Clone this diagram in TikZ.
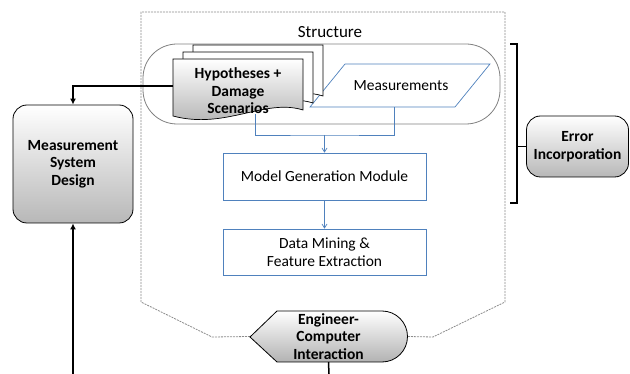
\documentclass[tikz,border=0pt]{standalone}
\usepackage{fontspec}
\setmainfont{Carlito}
\usetikzlibrary{arrows.meta,positioning,calc}
\definecolor{boxBlue}{HTML}{4F81BD}
\newcommand\boxFont{\fontsize{15.5}{17.5}\selectfont}
\tikzstyle{grayBox}   =[draw,rounded corners=14pt,top color=white,bottom color=black!28,line width=0.8pt,align=center,font=\boxFont\bfseries]
\tikzstyle{blueBox}   =[draw=boxBlue,line width=0.7pt,fill=white,align=center,minimum width=203pt]
\tikzstyle{boldText}  =[align=center,font=\boxFont\bfseries]
\tikzstyle{docPage}   =[draw,line width=0.7pt,fill=white]
\tikzstyle{dashLine}  =[black!45,dash pattern=on 2pt off 1pt,line width=0.8pt]
\tikzstyle{blueLine}  =[boxBlue,line width=0.7pt]
\tikzstyle{blueArrow} =[blueLine,-{Straight Barb[length=4pt,width=5pt]}]
\tikzstyle{thickArrow}=[line width=1.7pt,-{Latex[length=6pt,width=6pt]}]

\begin{document}
\begin{tikzpicture}[x=1pt,y=-1pt,font=\boxFont]
  \useasboundingbox (0,0) rectangle (630,374);

  % engineer-computer interaction tab and the structure outline
  \node[boldText,minimum width=157pt,minimum height=51pt,inner sep=0pt] (eci) at (328.5,336.5) {};
  \draw[dashLine] (eci.west) -- (212,337) -- (141,302) -- (141,12) -- (505,12)
    -- (505,302) -- (433,337) -- (eci.east);
  \draw[line width=0.8pt,top color=white,bottom color=black!30]
    (250,337) -- (277,311) -- (382,311) arc(-90:90:25.5) -- (277,362) -- cycle;
  \node[boldText] at (eci) {Engineer-\\Computer\\Interaction};

  \node[font=\fontsize{17}{20}\selectfont] (struct) at (330,32) {Structure};
  \draw[black!50,line width=0.8pt,rounded corners=34pt] (143,44) rectangle (500,124);

  % measurements
  \draw[boxBlue,line width=0.7pt,fill=white] (345,64) -- (490,64) -- (455,107) -- (310,107) -- cycle;
  \node (meas) at (401,86) {Measurements};

  % stack of hypotheses
  \foreach \s in {20,10}
    \draw[docPage,shift={(\s,-0.7*\s)}] (173,59) -- (303,59) -- (303,110)
      .. controls (265,98) and (225,130) .. (173,116) -- cycle;
  \draw[line width=0.7pt,top color=white,bottom color=black!32] (173,59) -- (303,59) -- (303,110)
    .. controls (265,98) and (225,130) .. (173,116) -- cycle;
  \node[boldText] (hyp) at (238,91) {Hypotheses +\\Damage\\Scenarios};

  \node[blueBox,minimum height=47pt] (mgm) at (324.5,176.5) {Model Generation Module};
  \node[blueBox,minimum height=46pt] (dm) at (324.5,252) {Data Mining \&\\Feature Extraction};

  \coordinate (hypOut) at (255,114);
  \coordinate (measOut) at (394,107);
  \coordinate (join) at (324.5,135);
  \draw[blueLine] (hypOut) |- (join) -| (measOut);
  \draw[blueArrow] (join) -- (mgm);
  \draw[blueArrow] (mgm) -- (dm);

  % measurement system design
  \node[grayBox,minimum width=120pt,minimum height=118pt] (msd) at (73,164) {Measurement\\System\\Design};
  \coordinate (hypIn) at (173,86);
  \coordinate (msdIn) at (73,374);
  \draw[thickArrow,{Latex[length=6pt,width=6pt]}-] (msd.north) |- (hypIn);
  \draw[thickArrow] (msdIn) -- (msd.south);

  % error incorporation
  \node[grayBox,minimum width=102pt,minimum height=61pt] (err) at (577.5,146.5) {Error\\Incorporation};
  \draw[line width=1.3pt] (510,44) -- (517,44) -- (517,203) -- (510,203);
  \draw[line width=1.3pt] (err.west -| 517,0) -- (err.west);

  \coordinate (eciOut) at (329,374);
  \draw[line width=1.5pt] (eci.south) -- (eciOut);
\end{tikzpicture}
\end{document}
